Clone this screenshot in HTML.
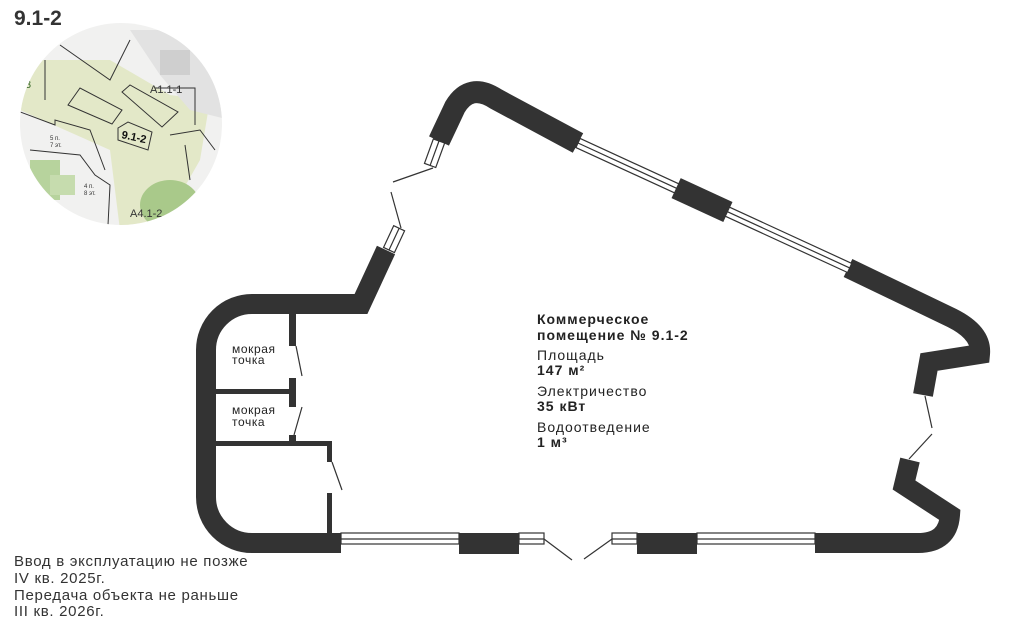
<!DOCTYPE html>
<html><head><meta charset="utf-8"><style>
html,body{margin:0;padding:0;background:#fff;}
svg{display:block;font-family:"Liberation Sans",sans-serif;}
</style></head><body>
<svg width="1024" height="630" viewBox="0 0 1024 630" xmlns="http://www.w3.org/2000/svg">
<defs><clipPath id="c"><circle cx="121" cy="124" r="101"/></clipPath></defs>
<text x="14" y="25" font-size="21" font-weight="bold" fill="#333">9.1-2</text>
<g clip-path="url(#c)">
 <rect x="0" y="0" width="250" height="250" fill="#f1f1f0"/>
 <polygon points="20,60 110,60 170,95 210,100 200,160 160,230 120,230 110,150 20,110" fill="#e3e8c8"/>
 <polygon points="130,30 230,30 230,120 190,110 160,75" fill="#e2e2e2"/>
 <rect x="160" y="50" width="30" height="25" fill="#cfcfcf"/>
 <ellipse cx="170" cy="205" rx="30" ry="25" fill="#a9c98a"/>
 <rect x="30" y="160" width="30" height="40" fill="#b7d39d"/>
 <rect x="50" y="175" width="25" height="20" fill="#c6dcae"/>
 <g fill="none" stroke="#333" stroke-width="1">
  <polyline points="60,45 110,80 130,40"/>
  <polygon points="68,105 80,88 122,110 112,124"/>
  <polygon points="122,92 130,85 178,112 162,127"/>
  <polygon points="118,128 128,122 152,132 148,150 118,140"/>
  <polyline points="15,110 55,125 55,120 90,130 105,170"/>
  <polyline points="30,150 80,155 95,175 110,185 108,225"/>
  <polyline points="155,88 195,88 195,125"/>
  <polyline points="170,135 200,130 215,150"/>
  <polyline points="185,145 190,180"/>
  <polyline points="45,60 45,100"/>
 </g>
 <text x="150" y="93" font-size="11" fill="#333">A1.1-1</text>
 <text x="121" y="138" font-size="11" fill="#111" font-weight="bold" transform="rotate(12 121 138)">9.1-2</text>
 <text x="130" y="217" font-size="11" fill="#333">A4.1-2</text>
 <text x="25" y="88" font-size="11" fill="#3a6a2a">3</text>
 <text x="50" y="140" font-size="6" fill="#333">5 п.</text><text x="50" y="147" font-size="6" fill="#333">7 эт.</text>
 <text x="84" y="188" font-size="6" fill="#333">4 п.</text><text x="84" y="195" font-size="6" fill="#333">8 эт.</text>
</g>

<g fill="none" stroke="#333" stroke-width="20" stroke-linejoin="miter">
 <path d="M341,543 H252 A46,46 0 0 1 206,497 V350 A46,46 0 0 1 252,304 H361 L386,250"/>
 <path d="M439,141 L455,107 Q470,82 496,99 L578,143" stroke-width="22"/>
 <path d="M848,268 L952,318 Q982,333 980,354 L929,362 L923,395"/>
 <path d="M815,543 H918 Q948,543 950,515 L904,485 L910,460"/>
</g>
<g fill="#333">
 <rect x="289" y="314" width="7" height="32"/>
 <rect x="216" y="389" width="76" height="5"/>
 <rect x="289" y="378" width="7" height="29"/>
 <rect x="289" y="435" width="7" height="8"/>
 <rect x="216" y="441" width="116" height="5"/>
 <rect x="327" y="441" width="5" height="21"/>
 <rect x="327" y="493" width="5" height="40"/>
 <rect x="459" y="533" width="60" height="21"/>
 <rect x="637" y="533" width="60" height="21"/>
</g>
<g fill="#fff" stroke="#333" stroke-width="1.2">
 <rect x="341" y="533" width="118" height="11"/>
 <rect x="519" y="533" width="25" height="11"/>
 <rect x="612" y="533" width="25" height="11"/>
 <rect x="697" y="533" width="118" height="11"/>
</g>
<g stroke="#333" stroke-width="1.2">
 <line x1="341" y1="539" x2="459" y2="539"/><line x1="519" y1="539" x2="544" y2="539"/>
 <line x1="612" y1="539" x2="637" y2="539"/><line x1="697" y1="539" x2="815" y2="539"/>
 <line x1="544" y1="539" x2="572" y2="560"/><line x1="584" y1="559" x2="612" y2="539"/>
 <line x1="296" y1="346" x2="302" y2="376"/><line x1="302" y1="407" x2="294" y2="435"/>
 <line x1="332" y1="462" x2="342" y2="490"/>
 <line x1="925" y1="396" x2="932" y2="428"/><line x1="932" y1="434" x2="909" y2="459"/>
 <line x1="433" y1="168" x2="393" y2="182"/><line x1="391" y1="192" x2="401" y2="228"/>
</g>
<g transform="translate(439,141) rotate(110)" stroke="#333" stroke-width="1.2">
 <rect x="0" y="-6" width="26" height="12" fill="#fff"/><line x1="0" y1="0" x2="26" y2="0"/>
</g>
<g transform="translate(389,250) rotate(-65)" stroke="#333" stroke-width="1.2">
 <rect x="0" y="-6" width="24" height="12" fill="#fff"/><line x1="0" y1="0" x2="24" y2="0"/>
</g>
<g transform="translate(578,143) rotate(24.7)">
 <rect x="0" y="-5" width="299" height="10" fill="#fff" stroke="#333" stroke-width="1.2"/>
 <line x1="0" y1="0" x2="299" y2="0" stroke="#333" stroke-width="1.2"/>
 <rect x="108" y="-11" width="57" height="22" fill="#333"/>
</g>

<g fill="#222" font-size="12" letter-spacing="0.6">
 <text x="232" y="353">мокрая</text><text x="232" y="364">точка</text>
 <text x="232" y="414">мокрая</text><text x="232" y="426">точка</text>
</g>
<g fill="#222" font-size="14" letter-spacing="1">
 <text x="537" y="324" font-weight="bold">Коммерческое</text>
 <text x="537" y="340" font-weight="bold">помещение № 9.1-2</text>
 <text x="537" y="360">Площадь</text>
 <text x="537" y="375" font-weight="bold">147 м²</text>
 <text x="537" y="396">Электричество</text>
 <text x="537" y="411" font-weight="bold">35 кВт</text>
 <text x="537" y="432">Водоотведение</text>
 <text x="537" y="447" font-weight="bold">1 м³</text>
</g>
<g fill="#333" font-size="15" letter-spacing="0.7">
 <text x="14" y="566">Ввод в эксплуатацию не позже</text>
 <text x="14" y="583">IV кв. 2025г.</text>
 <text x="14" y="600">Передача объекта не раньше</text>
 <text x="14" y="616">III кв. 2026г.</text>
</g>
</svg>
</body></html>
